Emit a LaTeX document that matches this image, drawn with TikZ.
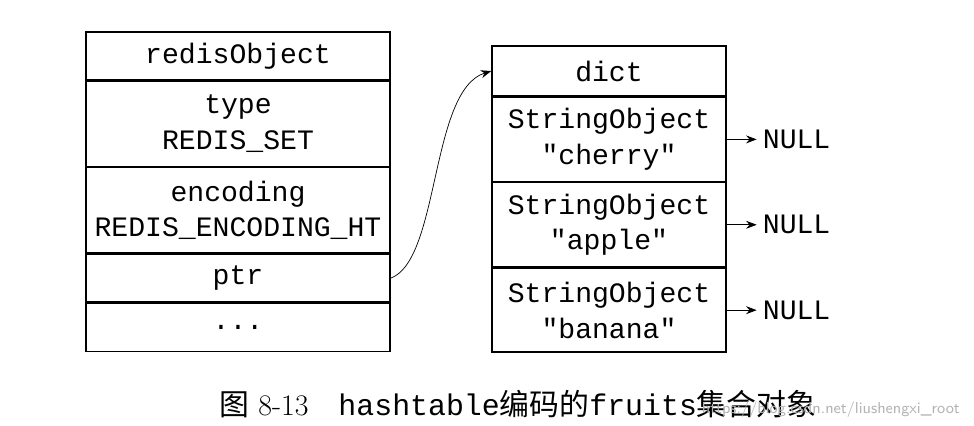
\documentclass[tikz,border=0pt]{standalone}
\usepackage{fontspec}
\setmonofont{Liberation Mono}
\newfontfamily\cjk{Noto Sans CJK SC}
\usetikzlibrary{arrows.meta,positioning}
\tikzset{
    cell/.style={draw, thick, minimum width=#1, inner sep=0pt, align=center,
        font=\ttfamily\fontsize{16}{20.4}\selectfont},
    ptrarrow/.style={-{Stealth[length=6pt]}, thin},
}
\begin{document}
\begin{tikzpicture}[x=0.02cm, y=-0.02cm]
    \useasboundingbox (0,0) rectangle (974,426);

    % redisObject
    \node[cell=6.08cm, minimum height=0.96cm] (robj) at (238,56) {redisObject};
    \node[cell=6.08cm, minimum height=1.70cm, below=0pt of robj] (type) {type\\REDIS\_SET};
    \node[cell=6.08cm, minimum height=1.70cm, below=0pt of type] (enc) {encoding\\REDIS\_ENCODING\_HT};
    \node[cell=6.08cm, minimum height=0.96cm, below=0pt of enc] (ptr) {ptr};
    \node[cell=6.08cm, minimum height=0.96cm, below=0pt of ptr] (more) {...};

    % dict
    \node[cell=4.68cm, minimum height=1.00cm] (dict) at (609,71) {dict};
    \node[cell=4.68cm, minimum height=1.68cm, below=0pt of dict] (cherry) {StringObject\\"cherry"};
    \node[cell=4.68cm, minimum height=1.68cm, below=0pt of cherry] (apple) {StringObject\\"apple"};
    \node[cell=4.68cm, minimum height=1.68cm, below=0pt of apple] (banana) {StringObject\\"banana"};

    \draw[ptrarrow] (ptr.east) .. controls (440,260) and (430,90) .. (dict.west);

    \foreach \s in {cherry, apple, banana} {
        \node[font=\ttfamily\fontsize{16}{20}\selectfont, right=0.6cm of \s.east] (null-\s) {NULL};
        \draw[ptrarrow] (\s.east) -- (null-\s.west);
    }

    % caption
    \node[font=\fontsize{17}{20}\selectfont] (cap) at (518,404)
        {{\cjk 图} 8-13\quad \texttt{hashtable}{\cjk 编码的}\texttt{fruits}{\cjk 集合对象}};
    \node[gray!60, font=\sffamily\fontsize{9}{10}\selectfont, anchor=east] (mark) at (966,410)
        {https://blog.csdn.net/liushengxi\_root};
\end{tikzpicture}
\end{document}
